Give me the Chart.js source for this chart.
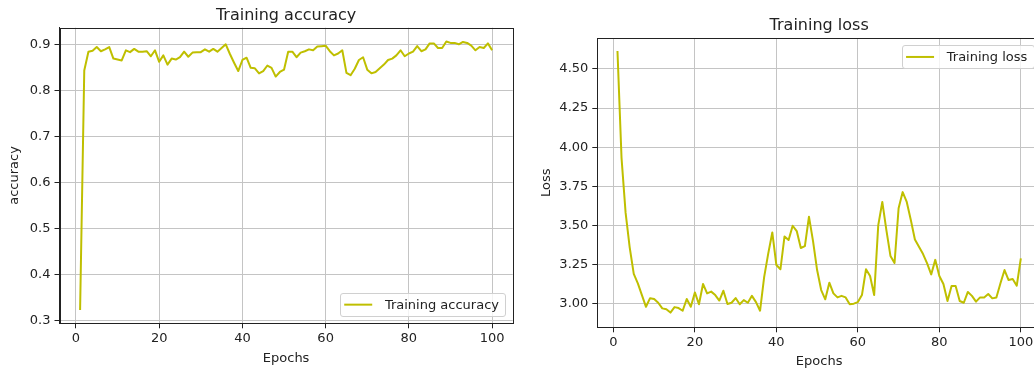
<!DOCTYPE html>
<html>
<head>
<meta charset="utf-8">
<title>Training curves</title>
<script src="https://cdn.jsdelivr.net/npm/chart.js@4.4.1/dist/chart.umd.min.js"></script>
<style>
  html, body { margin: 0; padding: 0; background: #fff; overflow: hidden; }
  .panel { position: absolute; top: 0; height: 369px; overflow: hidden; }
  #accPanel { left: 0; width: 520px; }
  #lossPanel { left: 520px; width: 514px; }
  canvas { display: block; }
</style>
</head>
<body>
<div class="panel" id="accPanel"><canvas id="accChart" width="520" height="369" style="width:520px;height:369px"></canvas></div>
<div class="panel" id="lossPanel"><canvas id="lossChart" width="530" height="369" style="width:530px;height:369px"></canvas></div>
<script>
// per-epoch training accuracy
const accuracy = [
  0.324, 0.843, 0.884, 0.886, 0.894, 0.885, 0.889, 0.894, 0.869, 0.867,
  0.865, 0.887, 0.883, 0.890, 0.884, 0.884, 0.885, 0.874, 0.887, 0.862,
  0.876, 0.856, 0.869, 0.867, 0.872, 0.884, 0.873, 0.882, 0.883, 0.883,
  0.889, 0.884, 0.890, 0.884, 0.892, 0.900, 0.879, 0.860, 0.842, 0.866,
  0.871, 0.849, 0.848, 0.837, 0.842, 0.854, 0.849, 0.830, 0.840, 0.845,
  0.884, 0.884, 0.872, 0.882, 0.885, 0.889, 0.887, 0.895, 0.896, 0.897,
  0.885, 0.876, 0.880, 0.887, 0.838, 0.833, 0.847, 0.866, 0.872, 0.845,
  0.837, 0.840, 0.848, 0.856, 0.866, 0.869, 0.876, 0.887, 0.874, 0.880,
  0.884, 0.896, 0.885, 0.889, 0.902, 0.902, 0.892, 0.892, 0.906, 0.903,
  0.903, 0.900, 0.905, 0.903, 0.897, 0.887, 0.894, 0.892, 0.902, 0.887
];

// per-epoch training loss
const loss = [
  4.615, 3.930, 3.580, 3.360, 3.190, 3.130, 3.055, 2.980, 3.035, 3.030,
  3.006, 2.970, 2.964, 2.943, 2.978, 2.972, 2.955, 3.030, 2.980, 3.072,
  2.996, 3.126, 3.066, 3.077, 3.055, 3.020, 3.083, 2.998, 3.006, 3.036,
  2.996, 3.023, 3.006, 3.050, 3.010, 2.955, 3.170, 3.320, 3.455, 3.247,
  3.220, 3.430, 3.407, 3.498, 3.464, 3.356, 3.368, 3.556, 3.400, 3.215,
  3.087, 3.028, 3.134, 3.066, 3.040, 3.050, 3.040, 2.996, 3.000, 3.010,
  3.055, 3.220, 3.177, 3.055, 3.500, 3.650, 3.470, 3.305, 3.260, 3.610,
  3.713, 3.650, 3.535, 3.410, 3.364, 3.317, 3.258, 3.187, 3.280, 3.177,
  3.126, 3.017, 3.113, 3.113, 3.017, 3.006, 3.075, 3.050, 3.013, 3.040,
  3.040, 3.062, 3.034, 3.040, 3.130, 3.215, 3.151, 3.158, 3.115, 3.290
];

const epochs = accuracy.map((_, i) => i + 1);

const epochTicks = [0, 20, 40, 60, 80, 100];
const epochTickLabels = ['0', '20', '40', '60', '80', '100'];
const accTicks = [0.3, 0.4, 0.5, 0.6, 0.7, 0.8, 0.9];
const accTickLabels = ['0.3', '0.4', '0.5', '0.6', '0.7', '0.8', '0.9'];
const lossTicks = [3.0, 3.25, 3.5, 3.75, 4.0, 4.25, 4.5];
const lossTickLabels = ['3.00', '3.25', '3.50', '3.75', '4.00', '4.25', '4.50'];

const INK = '#222222';
const GRID = '#c4c4c4';
const LINE = '#bfbf00';

Chart.defaults.font.family = "'DejaVu Sans', sans-serif";
Chart.defaults.font.size = 13;
Chart.defaults.color = INK;

// closed box around the plot area, like the other two spines
const frame = {
  id: 'frame',
  afterDatasetsDraw(chart) {
    const { ctx, chartArea: a } = chart;
    const l = Math.round(a.left) + 0.5, t = Math.round(a.top) + 0.5;
    const r = Math.round(a.right) + 0.5, b = Math.round(a.bottom) + 0.5;
    ctx.save();
    ctx.strokeStyle = INK;
    ctx.lineWidth = 1;
    ctx.strokeRect(l, t, r - l, b - t);
    ctx.restore();
  }
};

// small boxed legend sitting inside the plot area
const boxLegend = {
  id: 'boxLegend',
  afterDraw(chart, args, opts) {
    const { ctx, chartArea: a } = chart;
    const ds = chart.data.datasets[0];
    ctx.save();
    ctx.font = "13px 'DejaVu Sans', sans-serif";
    const textW = ctx.measureText(ds.label).width;
    const w = textW + 51.4, h = 23.3;
    const x = a.right - 7 - w;
    const y = opts.corner === 'lower' ? a.bottom - 7 - h : a.top + 7;
    ctx.beginPath();
    ctx.roundRect(Math.round(x) + 0.5, Math.round(y) + 0.5, Math.round(w), Math.round(h), 2.5);
    ctx.fillStyle = 'rgba(255,255,255,0.8)';
    ctx.fill();
    ctx.strokeStyle = '#d0d0d0';
    ctx.lineWidth = 1;
    ctx.stroke();
    const cy = y + h / 2;
    ctx.beginPath();
    ctx.moveTo(x + 4, cy);
    ctx.lineTo(x + 32, cy);
    ctx.strokeStyle = ds.borderColor;
    ctx.lineWidth = 2;
    ctx.stroke();
    ctx.fillStyle = INK;
    ctx.textBaseline = 'middle';
    ctx.textAlign = 'left';
    ctx.fillText(ds.label, x + 44.7, cy + 0.5);
    ctx.restore();
  }
};

function makeChart(id, o) {
  return new Chart(document.getElementById(id), {
    type: 'line',
    data: {
      datasets: [{
        label: o.label,
        data: epochs.map((e, i) => ({ x: e, y: o.values[i] })),
        borderColor: LINE,
        borderWidth: 2,
        borderJoinStyle: 'round',
        pointRadius: 0,
        tension: 0,
        fill: false
      }]
    },
    options: {
      responsive: false,
      animation: false,
      devicePixelRatio: 1,
      layout: { padding: { left: 0, top: 0, right: o.padRight, bottom: 0 } },
      plugins: {
        legend: { display: false },
        tooltip: { enabled: false },
        title: {
          display: true,
          text: o.title,
          fullSize: false,
          color: INK,
          font: { size: 16, weight: 'normal' },
          padding: o.titlePad
        },
        boxLegend: { corner: o.legendCorner }
      },
      scales: {
        x: {
          type: 'linear',
          min: -3.95,
          max: 104.95,
          afterBuildTicks: s => { s.ticks = epochTicks.map(v => ({ value: v })); },
          afterFit: s => { s.height = o.xHeight; },
          grid: { color: GRID, lineWidth: 1, tickLength: 5, tickColor: INK },
          border: { color: INK, width: 1 },
          ticks: {
            padding: o.xTickPad,
            maxRotation: 0,
            autoSkip: false,
            callback: (v, i) => epochTickLabels[i]
          },
          title: { display: true, text: 'Epochs', padding: { top: 0, bottom: o.xTitlePad } }
        },
        y: {
          type: 'linear',
          min: o.yMin,
          max: o.yMax,
          afterBuildTicks: s => { s.ticks = o.yTicks.map(v => ({ value: v })); },
          afterFit: s => { s.width = o.yWidth; },
          grid: { color: GRID, lineWidth: 1, tickLength: 5, tickColor: INK },
          border: { color: INK, width: 1 },
          ticks: { padding: 4, autoSkip: false, callback: (v, i) => o.yTickLabels[i] },
          title: { display: true, text: o.yTitle, padding: { top: o.yTitlePad, bottom: 0 } }
        }
      }
    },
    plugins: [frame, boxLegend]
  });
}

makeChart('accChart', {
  values: accuracy,
  label: 'Training accuracy',
  title: 'Training accuracy',
  yTitle: 'accuracy',
  yMin: 0.295,
  yMax: 0.936,
  yTicks: accTicks,
  yTickLabels: accTickLabels,
  padRight: 7.3,
  titlePad: { top: 6.4, bottom: 2.1 },
  yWidth: 59.5,
  yTitlePad: 7.2,
  xHeight: 45.7,
  xTickPad: 3,
  xTitlePad: 2.6,
  legendCorner: 'lower'
});

makeChart('lossChart', {
  values: loss,
  label: 'Training loss',
  title: 'Training loss',
  yTitle: 'Loss',
  yMin: 2.849,
  yMax: 4.696,
  yTicks: lossTicks,
  yTickLabels: lossTickLabels,
  padRight: 9,
  titlePad: { top: 16.7, bottom: 2.4 },
  yWidth: 77.3,
  yTitlePad: 18.4,
  xHeight: 41.7,
  xTickPad: 2.4,
  xTitlePad: 0,
  legendCorner: 'upper'
});
</script>
</body>
</html>
